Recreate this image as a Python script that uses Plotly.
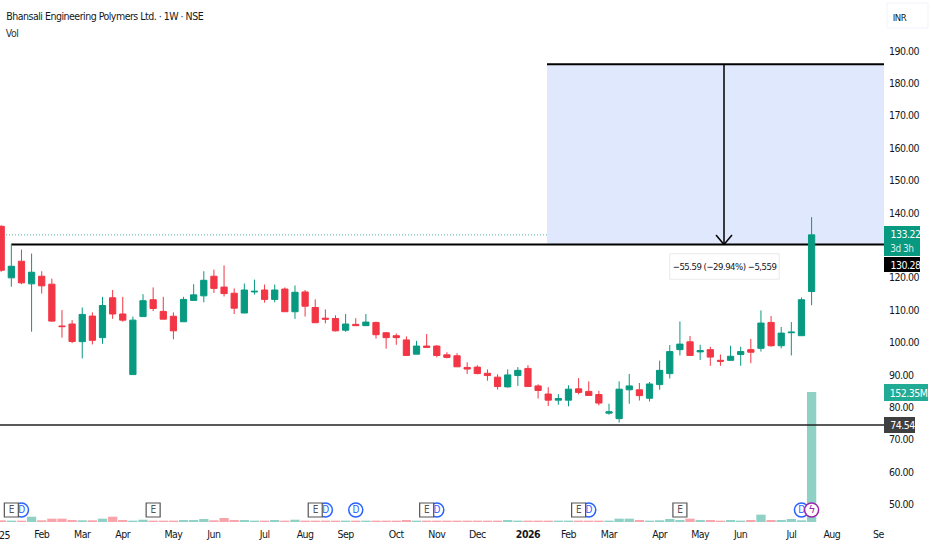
import plotly.graph_objects as go

FONT = "DejaVu Sans Condensed"
GREEN = "#089981"
RED = "#F23645"
INK = "#131722"

# weekly candles
opens = [135.85, 119.95, 125.08, 118.10, 120.46, 118.0, 105.1, 105.7, 100.26, 108.15,
         101.5, 113.8, 108.8, 90.1, 108.0, 113.2, 109.6, 108.1, 106.4, 113.0,
         114.4, 120.46, 117.1, 115.2, 109.1, 115.6, 116.2, 113.3, 116.5, 109.5,
         115.6, 110.8, 107.5, 107.4, 103.8, 105.6, 105.2, 106.2, 103.0, 102.1,
         100.8, 96.4, 98.9, 98.9, 96.2, 95.9, 92.3, 92.4, 90.5, 89.3,
         86.3, 89.8, 92.0, 86.6, 84.1, 82.2, 82.2, 85.7, 84.9, 83.95,
         78.2, 76.5, 85.4, 85.4, 82.8, 87.0, 90.4, 97.8, 100.2, 97.1,
         97.8, 94.5, 94.5, 96.3, 97.8, 98.2, 106.2, 99.0, 103.0, 102.1,
         115.75]
highs = [136.2, 130.5, 128.67, 127.44, 122.0, 119.7, 110.0, 106.9, 110.8, 109.3,
         114.1, 116.2, 114.1, 108.0, 114.9, 117.0, 114.1, 109.3, 114.1, 118.0,
         122.0, 122.5, 123.8, 116.7, 118.2, 119.4, 117.9, 117.9, 117.0, 117.6,
         116.2, 113.3, 110.2, 108.4, 108.8, 107.5, 108.8, 106.4, 103.2, 102.8,
         101.9, 100.5, 102.6, 99.2, 97.0, 96.7, 93.9, 93.0, 91.7, 90.2,
         91.7, 92.4, 93.0, 87.1, 86.2, 84.1, 86.8, 89.0, 88.0, 85.1,
         81.1, 88.0, 90.3, 87.5, 87.8, 94.4, 99.2, 106.5, 102.0, 99.3,
         98.7, 96.3, 99.0, 98.7, 101.1, 109.9, 108.2, 104.8, 106.3, 113.9,
         138.7]
lows = [121.8, 117.2, 118.0, 103.33, 115.1, 106.4, 101.5, 99.8, 95.1, 99.4,
        99.6, 107.3, 106.4, 90.1, 108.0, 109.7, 107.2, 101.0, 106.4, 113.0,
        112.4, 115.3, 114.2, 108.8, 109.1, 114.8, 112.3, 112.4, 109.5, 107.3,
        108.0, 106.1, 105.9, 103.4, 103.3, 105.1, 105.2, 101.2, 98.1, 99.3,
        95.9, 96.4, 98.5, 95.4, 95.1, 92.4, 90.3, 90.2, 88.2, 85.5,
        86.1, 86.6, 86.4, 82.7, 80.4, 80.8, 80.3, 84.0, 83.6, 80.6,
        77.7, 75.3, 81.1, 82.1, 81.8, 85.4, 88.9, 96.0, 96.0, 94.6,
        92.8, 92.8, 94.5, 92.8, 93.6, 97.2, 98.7, 98.2, 96.0, 102.1,
        111.5]
closes = [122.3, 123.54, 118.41, 121.69, 117.49, 106.6, 104.9, 100.3, 108.67, 100.67,
          111.4, 108.8, 106.9, 106.9, 112.9, 110.5, 107.2, 103.6, 113.3, 114.7,
          119.2, 116.7, 115.1, 110.6, 116.2, 115.8, 113.3, 116.2, 109.5, 115.5,
          111.2, 106.1, 107.2, 103.6, 105.7, 105.2, 106.3, 102.4, 101.5, 101.5,
          96.0, 98.9, 98.5, 96.0, 95.4, 92.5, 91.8, 90.4, 89.8, 86.4,
          90.0, 91.4, 86.4, 85.2, 82.2, 82.7, 85.6, 84.6, 83.66, 81.3,
          78.6, 85.6, 86.6, 83.6, 87.2, 91.4, 97.2, 99.5, 96.0, 97.5,
          95.5, 94.2, 95.75, 97.2, 97.0, 106.0, 99.0, 102.9, 103.2, 113.2,
          133.22]
volumes = [2.0, 1.6, 1.6, 6.2, 2.0, 3.9, 3.9, 2.3, 2.0, 2.0,
           3.9, 6.2, 2.3, 1.6, 2.7, 1.6, 1.6, 1.6, 2.3, 2.3,
           3.5, 2.0, 4.7, 2.3, 2.3, 1.6, 1.6, 2.3, 1.6, 2.7,
           1.6, 1.6, 1.6, 1.6, 1.6, 1.6, 1.6, 1.6, 1.6, 1.6,
           2.3, 1.6, 1.6, 1.6, 1.6, 1.6, 1.6, 1.6, 1.6, 1.6,
           2.3, 1.6, 1.6, 1.6, 1.6, 1.6, 1.6, 1.6, 1.6, 1.6,
           1.6, 3.9, 3.9, 2.3, 1.6, 2.0, 3.5, 2.3, 3.9, 2.3,
           2.3, 1.6, 2.3, 1.6, 2.3, 8.6, 2.3, 2.3, 3.5, 2.0,
           152.35]

tick_idx = [4, 8, 12, 17, 21, 26, 30, 34, 39, 43, 47, 52, 56, 60, 65, 69, 73, 78, 82, 86.6]
tick_labels = ["Feb", "Mar", "Apr", "May", "Jun", "Jul", "Aug", "Sep", "Oct", "Nov", "Dec",
               "<b>2026</b>", "Feb", "Mar", "Apr", "May", "Jun", "Jul", "Aug", "Se"]
price_ticks = [50, 60, 70, 80, 90, 100, 110, 120, 140, 150, 160, 170, 180, 190]

earnings_idx = [1, 15, 31, 42, 57, 67]
dividend_idx = [2, 32, 35, 43, 58, 79]
split_idx = [80]

support = 74.54
stop_level = 130.28
last_price = 133.22
target_top = 185.87
measure_text = "\u221255.59 (\u221229.94%) \u22125,559"

W, H = 932, 550
PLOT_W, PLOT_H = 884, 524
BAR_PX = 10.13
X0_PX = 1.2


def idx_at(px):
    return (px - X0_PX) / BAR_PX


def price_at(py):
    return 50 + (504.5 - py) / 3.24


def paper_x(px):
    return px / PLOT_W


def paper_y(py):
    return 1 - py / PLOT_H


xs = list(range(len(closes)))
x_end = idx_at(PLOT_W)
vol_colors = ["rgba(8,153,129,0.45)" if c >= o else "rgba(242,54,69,0.45)" for o, c in zip(opens, closes)]

fig = go.Figure()
fig.add_trace(go.Bar(x=xs, y=volumes, marker=dict(color=vol_colors, line_width=0), yaxis="y", showlegend=False))
fig.add_trace(go.Candlestick(
    x=xs, open=opens, high=highs, low=lows, close=closes, yaxis="y2", showlegend=False,
    increasing=dict(line=dict(color=GREEN, width=1), fillcolor=GREEN),
    decreasing=dict(line=dict(color=RED, width=1), fillcolor=RED),
    whiskerwidth=0,
))

marker_y = price_at(510)
fig.add_trace(go.Scatter(
    x=dividend_idx, y=[marker_y] * len(dividend_idx), yaxis="y2", mode="markers+text", showlegend=False,
    marker=dict(symbol="circle", size=14, color="white", line=dict(color="#2962FF", width=1.5)),
    text=["D"] * len(dividend_idx), textposition="middle center",
    textfont=dict(family=FONT, size=10, color="#2962FF"),
))
fig.add_trace(go.Scatter(
    x=split_idx, y=[marker_y], yaxis="y2", mode="markers+text", showlegend=False,
    marker=dict(symbol="circle", size=14, color="white", line=dict(color="#9C27B0", width=1.5)),
    text=["\u03df"], textposition="middle center",
    textfont=dict(family="DejaVu Sans", size=11, color="#9C27B0"),
))
fig.add_trace(go.Scatter(
    x=earnings_idx, y=[marker_y] * len(earnings_idx), yaxis="y2", mode="markers+text", showlegend=False,
    marker=dict(symbol="square", size=14, color="white", line=dict(color="#555555", width=1.2)),
    text=["E"] * len(earnings_idx), textposition="middle center",
    textfont=dict(family=FONT, size=10, color="#555555"),
))

left_px = 547
arrow_px = 724
shapes = [
    # projection box
    dict(type="rect", xref="x", yref="y2", x0=idx_at(left_px), x1=x_end, y0=stop_level, y1=target_top,
         fillcolor="#DFE8FC", line_width=0, layer="below"),
    dict(type="line", xref="x", yref="y2", x0=idx_at(left_px), x1=x_end, y0=target_top, y1=target_top,
         line=dict(color="black", width=2), layer="below"),
    dict(type="line", xref="x", yref="y2", x0=idx_at(arrow_px), x1=idx_at(arrow_px), y0=stop_level, y1=target_top,
         line=dict(color="black", width=1.5), layer="below"),
    dict(type="line", xref="x", yref="y2", x0=idx_at(arrow_px - 8), x1=idx_at(arrow_px), y0=price_at(235), y1=stop_level,
         line=dict(color="black", width=1.5), layer="below"),
    dict(type="line", xref="x", yref="y2", x0=idx_at(arrow_px + 8), x1=idx_at(arrow_px), y0=price_at(235), y1=stop_level,
         line=dict(color="black", width=1.5), layer="below"),
    # price levels
    dict(type="line", xref="x", yref="y2", x0=1, x1=x_end, y0=stop_level, y1=stop_level,
         line=dict(color="black", width=2), layer="below"),
    dict(type="line", xref="paper", yref="y2", x0=0, x1=1, y0=last_price, y1=last_price,
         line=dict(color="rgba(8,153,129,0.7)", width=1, dash="1px,2px"), layer="below"),
    dict(type="line", xref="paper", yref="y2", x0=0, x1=1, y0=support, y1=support,
         line=dict(color="#222222", width=1.5), layer="above"),
    # measure label box with a soft edge
    dict(type="rect", xref="paper", yref="paper", x0=paper_x(669), x1=paper_x(780), y0=paper_y(280), y1=paper_y(253),
         fillcolor="rgba(0,0,0,0.04)", line_width=0, layer="above"),
    dict(type="rect", xref="paper", yref="paper", x0=paper_x(670), x1=paper_x(779), y0=paper_y(279), y1=paper_y(254),
         fillcolor="white", line=dict(color="rgba(0,0,0,0.05)", width=1), layer="above"),
    # currency button
    dict(type="rect", xref="paper", yref="paper", x0=paper_x(887), x1=paper_x(928), y0=paper_y(28), y1=paper_y(3),
         fillcolor="white", line=dict(color="#F0F3FA", width=1), layer="above"),
]
# axis price tags
tags = [
    (884, 920, 226, 256, GREEN),
    (884, 920, 257, 272, "black"),
    (884, 928, 384, 401, "#22AB94"),
    (884, 915, 417, 433, "#3F3F3F"),
]
for x0, x1, y0, y1, col in tags:
    shapes.append(dict(type="rect", xref="paper", yref="paper", x0=paper_x(x0), x1=paper_x(x1),
                       y0=paper_y(y1), y1=paper_y(y0), fillcolor=col, line_width=0, layer="above"))


def label(px, py, text, color=INK, size=10.5):
    # letter spacing is set after plotly measures the text, so pull the start back by half of it
    return dict(xref="paper", yref="paper", x=paper_x(px), y=paper_y(py), text=text, showarrow=False,
                xanchor="left", yanchor="middle", xshift=-1 - 0.25 * len(text),
                font=dict(family=FONT, size=size, color=color), borderpad=0)


annotations = [
    label(6, 16, "Bhansali Engineering Polymers Ltd. \u00b7 1W \u00b7 NSE", size=10.5),
    label(6, 33, "Vol", color="#333333", size=10.5),
    label(893, 17, "INR", size=9.5),
    label(890, 234, "133.22", color="white"),
    label(890, 248, "3d 3h", color="rgba(255,255,255,0.85)", size=10),
    label(890, 264.5, "130.28", color="white"),
    label(890, 392.5, "152.35M", color="white"),
    label(890, 425, "74.54", color="white"),
    # the first year label runs off the left edge, as in the reference
    label(-12, 535, "2025"),
    dict(xref="paper", yref="paper", x=paper_x(724.5), y=paper_y(266.5), text=measure_text, showarrow=False,
         xanchor="center", yanchor="middle", font=dict(family=FONT, size=9.5, color=INK)),
]

fig.update_layout(
    width=W, height=H,
    margin=dict(l=0, r=W - PLOT_W, t=0, b=H - PLOT_H, pad=0),
    paper_bgcolor="white", plot_bgcolor="white",
    showlegend=False, bargap=0.08, boxgap=0.12,
    xaxis=dict(range=[idx_at(0), x_end], tickmode="array", tickvals=tick_idx, ticktext=tick_labels,
               showgrid=False, zeroline=False, showline=False, ticks="", rangeslider=dict(visible=False),
               ticklabelstandoff=2,
               tickfont=dict(family=FONT, size=10.5, color=INK)),
    # volume pane sits on the bottom of the same plot area
    yaxis=dict(range=[-2 / 0.853, 522 / 0.853], visible=False, fixedrange=True),
    yaxis2=dict(range=[price_at(PLOT_H), price_at(0)], overlaying="y", side="right", anchor="x",
                tickmode="array", tickvals=price_ticks, tickformat=".2f", showgrid=False, zeroline=False,
                showline=False, ticks="", ticklabelstandoff=4,
                tickfont=dict(family=FONT, size=10.5, color=INK)),
    shapes=shapes,
    annotations=annotations,
)

# the page's default body margin would push the plot 8px off; the reference text is very tight
page_fix = """
document.body.style.margin='0';
document.body.style.overflow='hidden';
var st=document.createElement('style');
st.textContent='svg text{letter-spacing:-0.5px}';
document.head.appendChild(st);
"""
fig.write_html("out.html", config={"displayModeBar": False}, post_script=page_fix)
